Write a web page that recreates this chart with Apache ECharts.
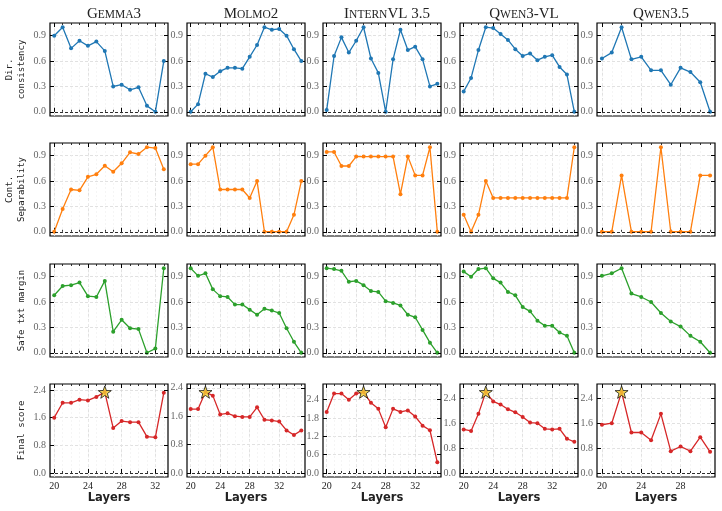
<!DOCTYPE html>
<html>
<head>
<meta charset="utf-8">
<script src="https://cdn.jsdelivr.net/npm/echarts@6/dist/echarts.min.js"></script>
<style>
html,body{margin:0;padding:0;background:#fff;}
#chart{width:722px;height:511px;}
</style>
</head>
<body>
<div id="chart"></div>
<script>
// models (columns) and title pieces for the small-caps look
var models = ['Gemma3', 'Molmo2', 'InternVL 3.5', 'Qwen3-VL', 'Qwen3.5'];
var titleParts = [['G', 'EMMA', '3'], ['M', 'OLMO', '2'], ['I', 'NTERN', 'VL 3.5'], ['Q', 'WEN', '3-VL'], ['Q', 'WEN', '3.5']];

// layers per model
var layersGemma3 = [20, 21, 22, 23, 24, 25, 26, 27, 28, 29, 30, 31, 32, 33];
var layersMolmo2 = [20, 21, 22, 23, 24, 25, 26, 27, 28, 29, 30, 31, 32, 33, 34, 35];
var layersInternVL = [20, 21, 22, 23, 24, 25, 26, 27, 28, 29, 30, 31, 32, 33, 34, 35];
var layersQwen3VL = [20, 21, 22, 23, 24, 25, 26, 27, 28, 29, 30, 31, 32, 33, 34, 35];
var layersQwen35 = [20, 21, 22, 23, 24, 25, 26, 27, 28, 29, 30, 31];
var layerTicks = [20, 24, 28, 32];

// metrics (rows), one list per model
var rowNames = ['Dir.\nconsistency', 'Cont.\nSeparability', 'Safe txt margin', 'Final score'];
var dirConsistency = [
	[0.90, 1.00, 0.75, 0.84, 0.78, 0.83, 0.72, 0.30, 0.32, 0.26, 0.29, 0.07, 0.00, 0.60],
	[0.00, 0.09, 0.45, 0.41, 0.48, 0.52, 0.52, 0.51, 0.65, 0.79, 1.00, 0.97, 0.98, 0.90, 0.74, 0.60],
	[0.02, 0.66, 0.88, 0.70, 0.84, 1.00, 0.63, 0.46, 0.00, 0.62, 0.97, 0.73, 0.77, 0.62, 0.30, 0.33],
	[0.24, 0.40, 0.73, 1.00, 0.99, 0.92, 0.85, 0.74, 0.66, 0.69, 0.61, 0.65, 0.67, 0.53, 0.44, 0.00],
	[0.63, 0.70, 1.00, 0.62, 0.65, 0.49, 0.49, 0.32, 0.52, 0.47, 0.35, 0.00]
];
var contSeparability = [
	[0.00, 0.27, 0.50, 0.49, 0.65, 0.68, 0.78, 0.71, 0.81, 0.94, 0.92, 1.00, 0.99, 0.74],
	[0.80, 0.80, 0.90, 1.00, 0.50, 0.50, 0.50, 0.50, 0.40, 0.60, 0.00, 0.00, 0.00, 0.00, 0.20, 0.60],
	[0.944, 0.944, 0.778, 0.778, 0.889, 0.889, 0.889, 0.889, 0.889, 0.889, 0.444, 0.889, 0.667, 0.667, 1.00, 0.00],
	[0.20, 0.00, 0.20, 0.60, 0.40, 0.40, 0.40, 0.40, 0.40, 0.40, 0.40, 0.40, 0.40, 0.40, 0.40, 1.00],
	[0.00, 0.00, 0.667, 0.00, 0.00, 0.00, 1.00, 0.00, 0.00, 0.00, 0.667, 0.667]
];
var safeTxtMargin = [
	[0.68, 0.79, 0.80, 0.83, 0.67, 0.66, 0.85, 0.25, 0.39, 0.29, 0.28, 0.00, 0.05, 1.00],
	[1.00, 0.91, 0.94, 0.75, 0.67, 0.66, 0.57, 0.57, 0.51, 0.45, 0.52, 0.50, 0.47, 0.29, 0.13, 0.00],
	[1.00, 0.99, 0.97, 0.84, 0.85, 0.80, 0.73, 0.72, 0.61, 0.59, 0.56, 0.45, 0.42, 0.27, 0.12, 0.00],
	[0.96, 0.90, 0.99, 1.00, 0.88, 0.83, 0.72, 0.68, 0.54, 0.49, 0.38, 0.32, 0.32, 0.24, 0.20, 0.00],
	[0.91, 0.94, 1.00, 0.70, 0.66, 0.60, 0.47, 0.37, 0.31, 0.20, 0.13, 0.00]
];
var finalScore = [
	[1.60, 2.03, 2.03, 2.12, 2.10, 2.20, 2.34, 1.30, 1.50, 1.47, 1.47, 1.05, 1.03, 2.32],
	[1.80, 1.80, 2.28, 2.18, 1.65, 1.68, 1.60, 1.58, 1.58, 1.85, 1.50, 1.48, 1.45, 1.20, 1.07, 1.20],
	[2.00, 2.60, 2.60, 2.40, 2.60, 2.65, 2.30, 2.10, 1.50, 2.10, 2.00, 2.05, 1.85, 1.55, 1.40, 0.35],
	[1.40, 1.35, 1.90, 2.60, 2.30, 2.20, 2.05, 1.95, 1.80, 1.62, 1.60, 1.42, 1.40, 1.42, 1.10, 1.00],
	[1.55, 1.60, 2.60, 1.30, 1.30, 1.05, 1.90, 0.70, 0.85, 0.70, 1.15, 0.68]
];
var unitTicks = [0, 0.3, 0.6, 0.9];
var finalTicks = [
	[0, 0.8, 1.6, 2.4],
	[0, 0.8, 1.6, 2.4],
	[0, 0.6, 1.2, 1.8, 2.4],
	[0, 0.8, 1.6, 2.4],
	[0, 0.8, 1.6, 2.4]
];

var chart = echarts.init(document.getElementById('chart'));

var layersByModel = [layersGemma3, layersMolmo2, layersInternVL, layersQwen3VL, layersQwen35];
var metrics = [dirConsistency, contSeparability, safeTxtMargin, finalScore];
var colors = ['#1f77b4', '#ff7f0e', '#2ca02c', '#d62728'];
var colLeft = [50, 187, 323, 460, 597], colW = 118;
var rowTop = [23, 143, 264, 384], rowH = 93;
var starPath = 'path://M0,-10L2.35,-3.24L9.51,-3.09L3.8,1.24L5.88,8.09L0,4L-5.88,8.09L-3.8,1.24L-9.51,-3.09L-2.35,-3.24Z';

var grids = [], xAxes = [], yAxes = [], series = [], titles = [];

for (var c = 0; c < models.length; c++) {
	var tp = titleParts[c];
	titles.push({
		text: '{a|' + tp[0] + '}{b|' + tp[1] + '}{a|' + tp[2] + '}',
		left: colLeft[c] + colW / 2,
		top: 2,
		textAlign: 'center',
		textStyle: {
			fontWeight: 'normal',
			rich: {
				a: {fontFamily: 'Liberation Serif', fontSize: 15, fontWeight: 'normal', color: '#222'},
				b: {fontFamily: 'Liberation Serif', fontSize: 11.5, fontWeight: 'normal', color: '#222'}
			}
		}
	});
}

for (var r = 0; r < 4; r++) {
	for (var c = 0; c < models.length; c++) {
		var gi = grids.length;
		var L = layersByModel[c];
		var vals = metrics[r][c];
		var lo = L[0], hi = L[L.length - 1];
		var major = layerTicks.filter(function(v){ return v >= lo && v <= hi; });
		var yTicks, yMin, yMax;
		if (r < 3) {
			yTicks = unitTicks; yMin = -0.05; yMax = 1.05;
		} else {
			var m = Math.max.apply(null, vals);
			yTicks = finalTicks[c]; yMin = -0.05 * m; yMax = 1.1 * m;
		}
		grids.push({
			left: colLeft[c], top: rowTop[r], width: colW, height: rowH,
			show: true, borderColor: '#000', borderWidth: 1.2, backgroundColor: 'transparent'
		});

		var xBase = {gridIndex: gi, type: 'value', min: lo - 0.5, max: hi + 0.5, axisLine: {show: false}};
		// bottom major (carries the data)
		var xIdx = xAxes.length;
		xAxes.push(Object.assign({}, xBase, {
			position: 'bottom',
			axisTick: {show: true, inside: true, length: 4, customValues: major, lineStyle: {color: '#000', width: 1}},
			axisLabel: {show: r === 3, customValues: major, margin: 4, fontFamily: 'Liberation Serif', fontSize: 10, color: '#222'},
			splitLine: {show: true, lineStyle: {type: [3, 2], color: '#d4d4d4', width: 0.7}},
			name: r === 3 ? 'Layers' : '',
			nameLocation: 'middle',
			nameGap: 15,
			nameTextStyle: {fontFamily: 'DejaVu Sans', fontWeight: 'bold', fontSize: 11.5, color: '#222'}
		}));
		// bottom minor
		xAxes.push(Object.assign({}, xBase, {
			position: 'bottom',
			axisTick: {show: true, inside: true, length: 2, customValues: L, lineStyle: {color: '#000', width: 0.8}},
			axisLabel: {show: false},
			splitLine: {show: true, lineStyle: {type: [2, 2], color: '#eeeeee', width: 0.6}}
		}));
		// top major + minor
		xAxes.push(Object.assign({}, xBase, {
			position: 'top',
			axisTick: {show: true, inside: true, length: 4, customValues: major, lineStyle: {color: '#000', width: 1}},
			axisLabel: {show: false},
			splitLine: {show: false}
		}));
		xAxes.push(Object.assign({}, xBase, {
			position: 'top',
			axisTick: {show: true, inside: true, length: 2, customValues: L, lineStyle: {color: '#000', width: 0.8}},
			axisLabel: {show: false},
			splitLine: {show: false}
		}));

		var yIdx = yAxes.length;
		yAxes.push({
			gridIndex: gi, type: 'value', position: 'left', min: yMin, max: yMax,
			axisLine: {show: false},
			axisTick: {show: true, inside: true, length: 4, customValues: yTicks, lineStyle: {color: '#000', width: 1}},
			axisLabel: {
				customValues: yTicks, margin: 4, fontFamily: 'Liberation Serif', fontSize: 10, color: '#666',
				formatter: function(v){ return (+v).toFixed(1); }
			},
			splitLine: {show: true, lineStyle: {type: [3, 2], color: '#d4d4d4', width: 0.7}},
			name: c === 0 ? rowNames[r] : '',
			nameLocation: 'middle',
			nameGap: 22,
			nameRotate: 90,
			nameTextStyle: {fontFamily: 'DejaVu Sans Mono', fontSize: 9, color: '#222', lineHeight: 12}
		});
		yAxes.push({
			gridIndex: gi, type: 'value', position: 'right', min: yMin, max: yMax,
			axisLine: {show: false},
			axisTick: {show: true, inside: true, length: 4, customValues: yTicks, lineStyle: {color: '#000', width: 1}},
			axisLabel: {show: false},
			splitLine: {show: false}
		});

		series.push({
			type: 'line',
			xAxisIndex: xIdx,
			yAxisIndex: yIdx,
			data: L.map(function(x, i){ return [x, vals[i]]; }),
			symbol: 'circle',
			symbolSize: 4,
			color: colors[r],
			lineStyle: {width: 1.3, color: colors[r]},
			itemStyle: {color: colors[r]},
			animation: false,
			z: 3,
			markLine: {
				silent: true,
				symbol: 'none',
				label: {show: false},
				lineStyle: {type: [3, 2], color: '#000', width: 0.8},
				data: [{yAxis: 0}]
			}
		});

		if (r === 3) {
			var best = 0;
			for (var i = 1; i < vals.length; i++) if (vals[i] > vals[best]) best = i;
			series.push({
				type: 'scatter',
				xAxisIndex: xIdx,
				yAxisIndex: yIdx,
				data: [[L[best], vals[best]]],
				symbol: starPath,
				symbolKeepAspect: true,
				symbolSize: 13,
				itemStyle: {color: '#f5d133', borderColor: '#000', borderWidth: 0.9},
				animation: false,
				z: 5
			});
		}
	}
}

chart.setOption({
	animation: false,
	backgroundColor: '#fff',
	title: titles,
	grid: grids,
	xAxis: xAxes,
	yAxis: yAxes,
	series: series
});
</script>
</body>
</html>
